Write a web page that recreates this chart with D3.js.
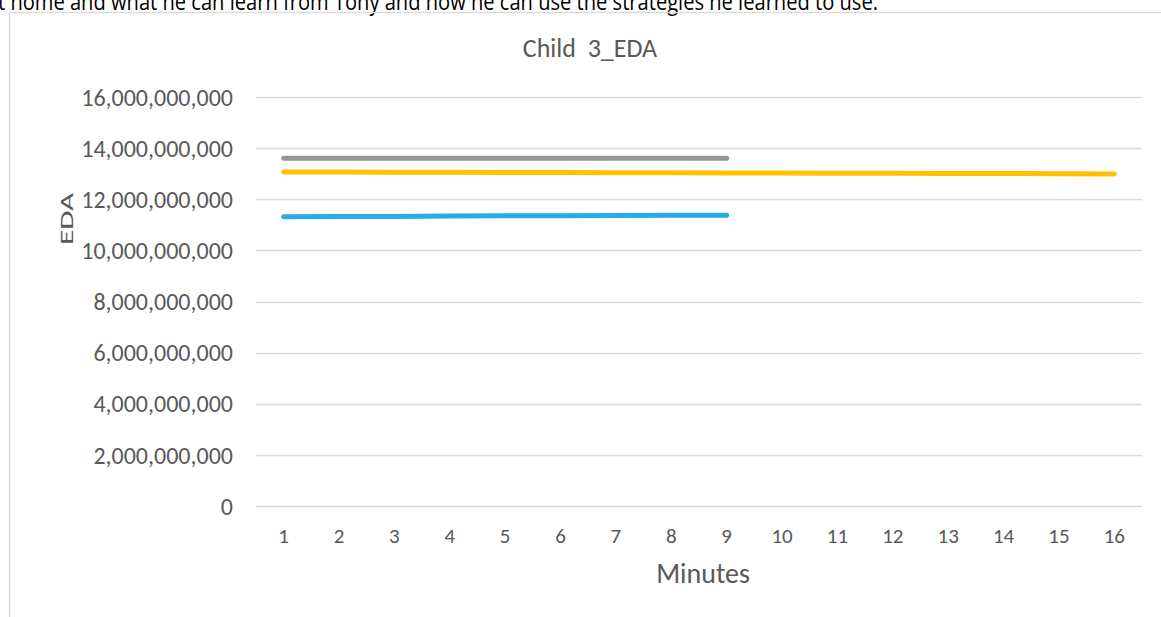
<!DOCTYPE html>
<html><head><meta charset="utf-8">
<script src="https://cdn.jsdelivr.net/npm/d3@7"></script>
<style>body{margin:0;background:#fff;overflow:hidden}</style>
</head><body>
<svg id="c" width="1161" height="617"></svg>
<script>
const minutes = [1,2,3,4,5,6,7,8,9,10,11,12,13,14,15,16];
const grayValues = [13.60e9,13.60e9,13.60e9,13.60e9,13.60e9,13.60e9,13.60e9,13.60e9,13.60e9];
const yellowValues = [13.07e9,13.065e9,13.06e9,13.055e9,13.05e9,13.045e9,13.04e9,13.035e9,13.03e9,13.025e9,13.02e9,13.015e9,13.01e9,13.005e9,13.0e9,12.99e9];
const blueValues = [11.32e9,11.33e9,11.33e9,11.34e9,11.35e9,11.35e9,11.36e9,11.37e9,11.37e9];
const yTicks = [0,2e9,4e9,6e9,8e9,10e9,12e9,14e9,16e9];
const titleText = "Child  3_EDA";
const xTitle = "Minutes";
const yTitle = "EDA";
const topText = "t home and what he can learn from Tony and how he can use the strategies he learned to use.";

const svg = d3.select("#c");
const font = "Calibri, Carlito, 'Open Sans', sans-serif";

svg.append("text").attr("x",-2).attr("y",10).attr("font-family","'Liberation Sans Narrow', 'Open Sans', sans-serif")
  .attr("font-size",24).attr("fill","#000").attr("textLength",880).attr("lengthAdjust","spacingAndGlyphs").text(topText);

svg.append("rect").attr("x",9.5).attr("y",12.5).attr("width",1160).attr("height",620)
  .attr("fill","none").attr("stroke","#d9d9d9").attr("stroke-width",1.3);

const x = d3.scaleBand().domain(minutes).range([256,1142]);
const y = d3.scaleLinear().domain([0,16e9]).range([506,97]);

const g = svg.append("g");
g.selectAll(".grid").data(yTicks).join("line")
  .attr("x1",256).attr("x2",1142).attr("y1",d=>Math.round(y(d))+0.5).attr("y2",d=>Math.round(y(d))+0.5)
  .attr("stroke","#d9d9d9").attr("stroke-width",1.3);

const yAxis = d3.axisLeft(y).tickValues(yTicks).tickFormat(d3.format(",")).tickSize(0).tickPadding(23);
const ya = svg.append("g").attr("transform","translate(256,0)").call(yAxis);
ya.select(".domain").remove();
ya.selectAll("text").attr("font-family",font).attr("font-size",24).attr("fill","#595959").attr("dy","0.34em");

const xAxis = d3.axisBottom(x).tickSize(0).tickPadding(0);
const xa = svg.append("g").attr("transform","translate(0,506)").call(xAxis);
xa.select(".domain").remove();
xa.selectAll("text").attr("font-family",font).attr("font-size",21).attr("fill","#595959").attr("y",37).attr("dy",null);

const line = d3.line().x((d,i)=>x(minutes[i])+x.bandwidth()/2).y(d=>y(d));
const series = [
  {vals: grayValues, color:"#939598"},
  {vals: yellowValues, color:"#FFC000"},
  {vals: blueValues, color:"#2AACE2"}
];
svg.selectAll(".ser").data(series).join("path")
  .attr("d",d=>line(d.vals)).attr("fill","none").attr("stroke",d=>d.color)
  .attr("stroke-width",5).attr("stroke-linecap","round").attr("stroke-linejoin","round");

svg.append("text").attr("x",590).attr("y",57).attr("text-anchor","middle").attr("xml:space","preserve")
  .style("white-space","pre")
  .attr("font-family",font).attr("font-size",26).attr("fill","#595959").text(titleText);
svg.append("text").attr("x",703).attr("y",583).attr("text-anchor","middle")
  .attr("font-family",font).attr("font-size",28).attr("fill","#595959").text(xTitle);
svg.append("text").attr("transform","translate(73,219) rotate(-90)").attr("text-anchor","middle")
  .attr("font-family",font).attr("font-size",18).attr("fill","#595959")
  .attr("textLength",52).attr("lengthAdjust","spacingAndGlyphs").text(yTitle);
</script>
</body></html>
